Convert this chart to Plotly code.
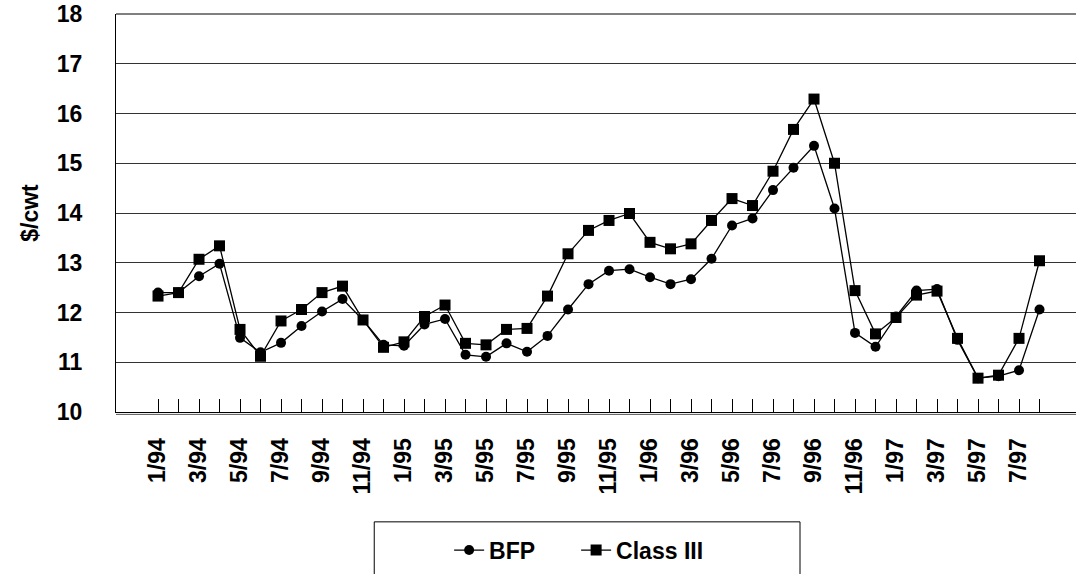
import plotly.graph_objects as go

months = ["1/94", "2/94", "3/94", "4/94", "5/94", "6/94", "7/94", "8/94", "9/94", "10/94", "11/94", "12/94",
          "1/95", "2/95", "3/95", "4/95", "5/95", "6/95", "7/95", "8/95", "9/95", "10/95", "11/95", "12/95",
          "1/96", "2/96", "3/96", "4/96", "5/96", "6/96", "7/96", "8/96", "9/96", "10/96", "11/96", "12/96",
          "1/97", "2/97", "3/97", "4/97", "5/97", "6/97", "7/97", "8/97"]

bfp = [12.40, 12.40, 12.73, 12.98, 11.49, 11.20, 11.39, 11.73, 12.02, 12.27,
       11.85, 11.35, 11.33, 11.76, 11.87, 11.15, 11.11, 11.38, 11.21, 11.53,
       12.06, 12.57, 12.84, 12.87, 12.71, 12.57, 12.67, 13.08, 13.75, 13.89,
       14.46, 14.91, 15.35, 14.09, 11.59, 11.31, 11.92, 12.44, 12.47, 11.45,
       10.68, 10.72, 10.84, 12.06]

class3 = [12.33, 12.40, 13.07, 13.34, 11.66, 11.12, 11.83, 12.06, 12.40, 12.53,
          11.85, 11.30, 11.41, 11.92, 12.15, 11.38, 11.35, 11.66, 11.68, 12.33,
          13.18, 13.65, 13.85, 13.99, 13.41, 13.28, 13.38, 13.85, 14.29, 14.15,
          14.84, 15.68, 16.29, 15.00, 12.44, 11.57, 11.90, 12.35, 12.43, 11.48,
          10.68, 10.74, 11.48, 13.04]

y_ticks = [10, 11, 12, 13, 14, 15, 16, 17, 18]

xs = list(range(len(months)))
tick_text = [m if i % 2 == 0 else "" for i, m in enumerate(months)]

FONT = "Liberation Sans, Arial, sans-serif"
FS = 23

fig = go.Figure()
fig.add_trace(go.Scatter(
    x=xs, y=bfp, name="BFP", mode="lines+markers",
    line=dict(color="black", width=1.3),
    marker=dict(symbol="circle", size=10, color="black"),
))
fig.add_trace(go.Scatter(
    x=xs, y=class3, name="Class III", mode="lines+markers",
    line=dict(color="black", width=1.3),
    marker=dict(symbol="square", size=11, color="black"),
))

fig.update_layout(
    width=1076, height=574,
    margin=dict(l=116, r=0, t=14, b=162),
    paper_bgcolor="white", plot_bgcolor="white",
    font=dict(family=FONT, color="black"),
    showlegend=True,
    legend=dict(
        orientation="h", x=0.347, xanchor="left", y=-0.347, yanchor="middle",
        font=dict(family=FONT, size=FS, weight="bold", color="black"),
        bgcolor="rgba(0,0,0,0)", borderwidth=0,
        entrywidth=82, entrywidthmode="pixels",
    ),
    xaxis=dict(
        range=[-2.05, 44.78], automargin=False,
        tickmode="array", tickvals=xs, ticktext=tick_text,
        tickangle=-90,
        ticks="inside", ticklen=13, tickcolor="black", tickwidth=1,
        tickfont=dict(family=FONT, size=FS, weight="bold", color="black"),
        ticklabelstandoff=16,
        showgrid=False, zeroline=False,
        showline=True, linecolor="black", linewidth=1,
    ),
    yaxis=dict(
        range=[10, 18], automargin=False,
        tickmode="array", tickvals=y_ticks,
        ticks="", ticklabelstandoff=28,
        tickfont=dict(family=FONT, size=FS, weight="bold", color="black"),
        showgrid=True, gridcolor="#333333", gridwidth=1,
        zeroline=False,
        showline=True, linecolor="black", linewidth=1,
        title=dict(text="$/cwt", standoff=11,
                   font=dict(family=FONT, size=FS, weight="bold", color="black")),
    ),
    shapes=[
        dict(type="line", xref="paper", yref="paper", x0=0, x1=1, y0=1, y1=1,
             line=dict(color="black", width=1)),
        dict(type="line", xref="paper", yref="paper", x0=0, x1=1,
             y0=-0.006, y1=-0.006, line=dict(color="#555555", width=1)),
        dict(type="rect", xref="paper", yref="paper", x0=0.269, x1=0.7125,
             y0=-0.5, y1=-0.276, line=dict(color="black", width=1),
             fillcolor="rgba(0,0,0,0)"),
    ],
)

fig.write_html("out.html", config={"displayModeBar": False},
               post_script="document.body.style.margin='0';")
